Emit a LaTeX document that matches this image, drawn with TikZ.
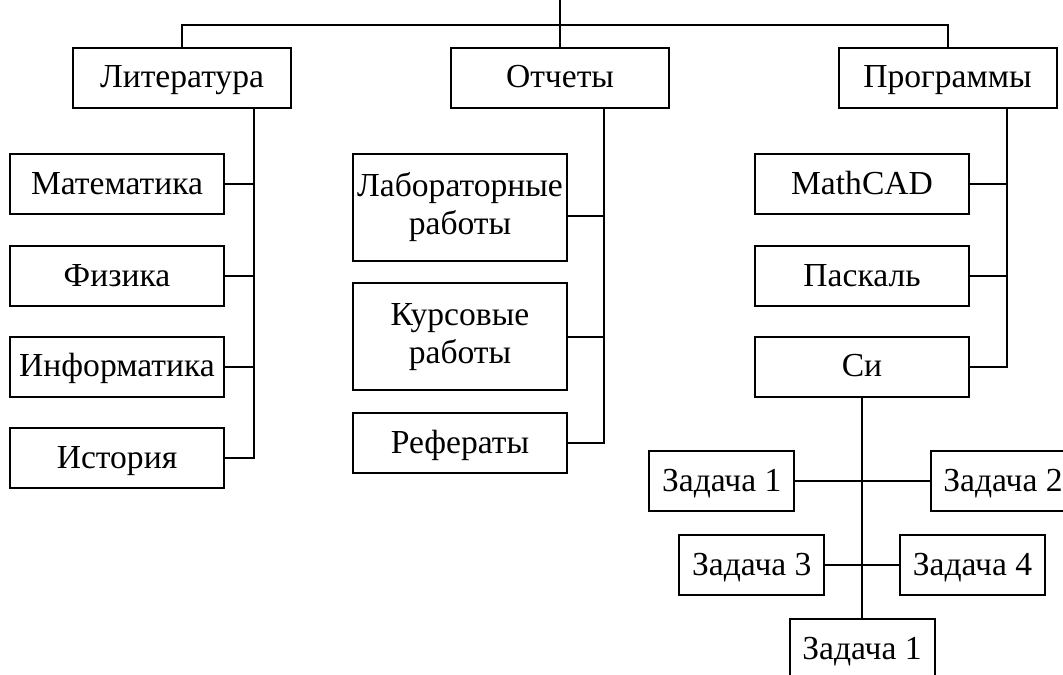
\documentclass[tikz,border=0pt]{standalone}
\usepackage{fontspec}
\setmainfont{Liberation Serif}
\usepackage{tikz}
\tikzset{
  blknode/.style = {rectangle, draw=black, line width=1pt, inner sep=0pt,
    align=center, font=\fontsize{16.8}{19}\selectfont, minimum height=30pt},
  blkline/.style = {blknode, text height=12.5pt, text depth=2.5pt},% une ligne
  blk_g/.style = {blkline, minimum width=109pt},% bloc, groupe
  blk_s/.style = {blkline, minimum width=107pt},% bloc, rubrique
  blk_d/.style = {blknode, minimum width=107pt, minimum height=53.3pt},% bloc sur deux lignes
  blk_t/.style = {blkline, minimum width=72.5pt}% bloc, tache
}

\begin{document}
\begin{tikzpicture}[x=0.5pt,y=-0.5pt,line width=1pt]
\useasboundingbox (0,0) rectangle (1063,674);
\clip (0,0) rectangle (1063,674);
% groupes
\node [blk_g] (lit) at (182,78) {Литература};
\node [blk_g] (rep) at (560,78) {Отчеты};
\node [blk_g] (prog) at (947.5,78) {Программы};
\coordinate (root) at (560,0);
\coordinate (bus) at (560,25);
\draw (root) -- (rep.north);
\draw (lit.north) |- (bus) -| (prog.north);
% literature
\node [blk_s] (mat) at (117,184) {Математика};
\node [blk_s] (fiz) at (117,276) {Физика};
\node [blk_s] (inf) at (117,366.7) {Информатика};
\node [blk_s] (ist) at (117,458.3) {История};
\coordinate (litbus) at (254,0);
\draw (lit.south -| litbus) |- (ist.east);
\foreach \n in {mat,fiz,inf}
  \draw (\n.east) -- (\n.east -| litbus);
% reports
\node [blk_d] (lab) at (460,207.3) {Лабораторные\\работы};
\node [blk_d] (kur) at (460,336.7) {Курсовые\\работы};
\node [blk_s] (ref) at (460,443) {Рефераты};
\coordinate (repbus) at (604,0);
\coordinate (labc) at ([yshift=-4.5pt]lab.east);
\draw (rep.south -| repbus) |- (ref.east);
\draw (labc) -- (labc -| repbus);
\draw (kur.east) -- (kur.east -| repbus);
% programs
\node [blk_s] (mcad) at (862,184) {MathCAD};
\node [blk_s] (pas) at (862,276) {Паскаль};
\node [blk_s] (si) at (862,366.7) {Си};
\coordinate (progbus) at (1007,0);
\draw (prog.south -| progbus) |- (si.east);
\foreach \n in {mcad,pas}
  \draw (\n.east) -- (\n.east -| progbus);
% tasks
\node [blk_t] (z1) at (721.7,481) {Задача 1};
\node [blk_t] (z2) at (1003,481) {Задача 2};
\node [blk_t] (z3) at (751.8,565.3) {Задача 3};
\node [blk_t] (z4) at (972.5,565.3) {Задача 4};
\node [blk_t] (z5) at (862,649) {Задача 1};
\draw (si.south) -- (z5.north);
\draw (z1.east) -- (z2.west);
\draw (z3.east) -- (z4.west);
\end{tikzpicture}
\end{document}
